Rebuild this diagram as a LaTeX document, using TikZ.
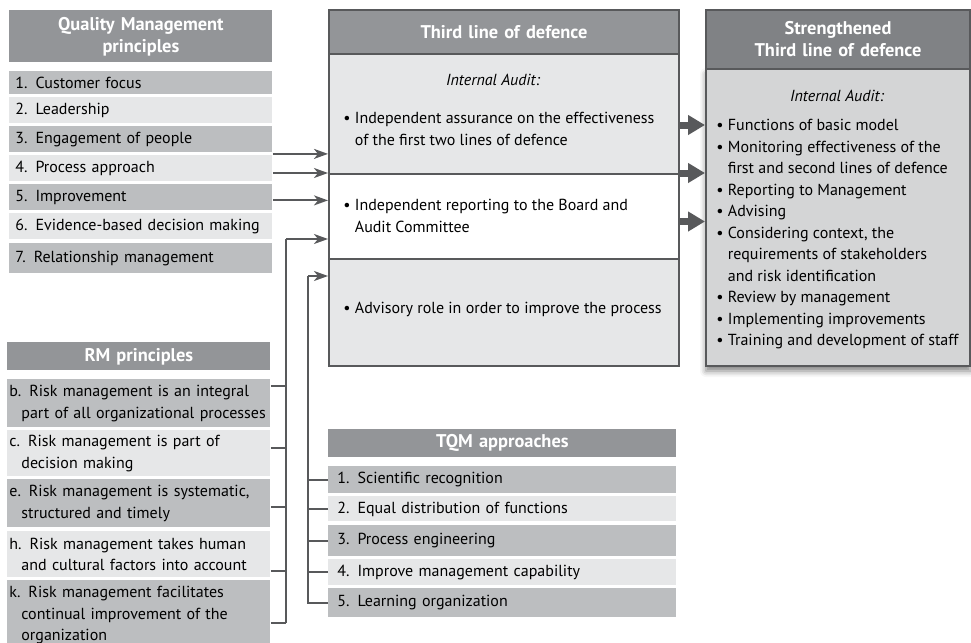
\documentclass[tikz,border=0pt]{standalone}
\usepackage{fontspec}
\setmainfont{PT Sans}
\usetikzlibrary{arrows.meta,calc,shadows.blur}
\definecolor{hdrgray}{HTML}{939598}
\definecolor{darkrow}{HTML}{BCBEC0}
\definecolor{lightrow}{HTML}{E6E7E8}
\definecolor{linegray}{HTML}{58595B}
\definecolor{rhdrgray}{HTML}{808285}
\definecolor{rbodygray}{HTML}{D4D5D6}
\tikzset{
  box/.style={anchor=north west, inner xsep=3pt, inner ysep=0pt, align=left,
    font=\fontsize{8}{10.75}\selectfont},
  hdr/.style={box, fill=hdrgray, text=white, align=center,
    font=\bfseries\fontsize{9.2}{11}\selectfont},
  dkrow/.style={box, fill=darkrow},
  ltrow/.style={box, fill=lightrow},
  frame/.style={box, draw=linegray, line width=1pt},
  txt/.style={anchor=north west, inner sep=0pt, align=left,
    font=\fontsize{8}{10.75}\selectfont},
  conn/.style={draw=linegray, line width=1pt},
  arr/.style={conn, -{Stealth[length=7pt,width=5pt,inset=2pt]}},
  fat/.style={draw=linegray, line width=3.5pt, -{Triangle[length=8.5pt,width=9.5pt]}}
}
\newcommand{\ind}{\hspace*{6pt}}
\newcommand{\bul}{\textbullet\ }
\newcommand{\nobul}{\phantom{\textbullet\ }}
\begin{document}
\begin{tikzpicture}[x=0.5pt,y=-0.5pt]
\useasboundingbox (0,0) rectangle (971,643);

% Quality Management principles
\begin{scope}[every node/.append style={text width=125.5pt}]
\node[hdr, minimum height=26pt] (qmhead) at (9,10) {Quality Management\\principles};
\node[dkrow, minimum height=11.5pt] (qm1) at (9,71) {1. Customer focus};
\node[ltrow, minimum height=13pt] (qm2) at (9,97) {2. Leadership};
\node[dkrow, minimum height=13pt] (qm3) at (9,126) {3. Engagement of people};
\node[ltrow, minimum height=13pt] (qm4) at (9,155) {4. Process approach};
\node[dkrow, minimum height=13pt] (qm5) at (9,184) {5. Improvement};
\node[ltrow, minimum height=13pt] (qm6) at (9,213) {6. Evidence-based decision making};
\node[dkrow, minimum height=15pt] (qm7) at (9,243) {7. Relationship management};
\end{scope}

% RM principles
\begin{scope}[box/.append style={inner xsep=1pt}, every node/.append style={text width=129.5pt}]
\node[hdr, minimum height=14pt] (rmhead) at (7,342) {RM principles};
\node[dkrow, minimum height=24pt] (rmb) at (7,379) {b. Risk management is an integral\\\ind part of all organizational processes};
\node[ltrow, minimum height=23pt] (rmc) at (7,430) {c. Risk management is part of\\\ind decision making};
\node[dkrow, minimum height=24pt] (rme) at (7,479) {e. Risk management is systematic,\\\ind structured and timely};
\node[ltrow, minimum height=23pt] (rmh) at (7,531) {h. Risk management takes human\\\ind and cultural factors into account};
\node[dkrow, minimum height=35pt] (rmk) at (7,580) {k. Risk management facilitates\\\ind continual improvement of the\\\ind organization};
\end{scope}

% TQM approaches
\begin{scope}[box/.append style={inner xsep=4.5pt}, every node/.append style={text width=165pt}]
\node[hdr, minimum height=14pt] (tqhead) at (328,429) {TQM approaches};
\node[dkrow, minimum height=13.5pt] (tq1) at (328,466) {1. Scientific recognition};
\node[ltrow, minimum height=12.5pt] (tq2) at (328,496) {2. Equal distribution of functions};
\node[dkrow, minimum height=15.5pt] (tq3) at (328,525) {3. Process engineering};
\node[ltrow, minimum height=13pt] (tq4) at (328,559) {4. Improve management capability};
\node[dkrow, minimum height=14.5pt] (tq5) at (328,588) {5. Learning organization};
\end{scope}

% Third line of defence
\begin{scope}[every node/.append style={text width=169pt}]
\node[frame, fill=lightrow, minimum height=60pt] (mid1) at (328,53) {};
\node[frame, fill=white, minimum height=42.5pt] (mid2) at (328,173) {};
\node[frame, fill=lightrow, minimum height=53.5pt] (mid3) at (328,258) {};
\node[frame, hdr, minimum height=22pt] (mid0) at (328,9) {Third line of defence};
\end{scope}
\node[txt, anchor=center] (m1audit) at (493,80) {\itshape Internal Audit:};
\node[txt] (m1list) at (343,112) {\bul Independent assurance on the effectiveness\\\nobul of the first two lines of defence};
\node[txt] (m2list) at (343,199) {\bul Independent reporting to the Board and\\\nobul Audit Committee};
\node[txt] (m3list) at (343,302) {\bul Advisory role in order to improve the process};

% Strengthened third line of defence
\node[frame, fill=rbodygray, text width=126pt, minimum height=148.5pt,
  blur shadow={shadow xshift=0pt, shadow yshift=-2.5pt, shadow blur radius=3pt, shadow opacity=50}] (rbody) at (705,68) {};
\node[frame, hdr, fill=rhdrgray, text width=126pt, minimum height=29.5pt] (rhead) at (705,9) {Strengthened\\Third line of defence};
\node[txt, anchor=center] (raudit) at (837,96) {\itshape Internal Audit:};
\node[txt] (rlist) at (716,119) {\bul Functions of basic model\\
  \bul Monitoring effectiveness of the\\
  \nobul first and second lines of defence\\
  \bul Reporting to Management\\
  \bul Advising\\
  \bul Considering context, the\\
  \nobul requirements of stakeholders\\
  \nobul and risk identification\\
  \bul Review by management\\
  \bul Implementing improvements\\
  \bul Training and development of staff};

% arrows from QM principles
\coordinate (qa) at ($(qm3.south east)!.5!(qm4.north east)$);
\draw[arr] (qa) -- (qa -| mid1.west);
\draw[arr] (qm4.east |- mid2.north) -- (mid2.north west);
\draw[arr] ([yshift=-1.5pt]qm5.east) -- ([yshift=-1.5pt]qm5.east -| mid2.west);

% RM bracket
\coordinate (rmbus) at (286,239);
\draw[arr] (rmbus) -- (rmbus -| mid2.west);
\draw[conn] (rmbus) -- (286,623);
\foreach \n/\d in {rmb/8.5pt, rmc/2.5pt, rme/-2pt, rmh/-8.5pt, rmk/-4pt}
  \draw[conn] ([yshift=\d]\n.east) -- ([yshift=\d]\n.east -| rmbus);

% TQM bracket
\coordinate (tqbus) at (308,276);
\draw[arr] (tqbus) -- (tqbus -| mid3.west);
\draw[conn] (tqbus) |- (tq5.west);
\foreach \n in {tq1,tq2,tq3,tq4}
  \draw[conn] (\n.west) -- (\n.west -| tqbus);

% block arrows to strengthened line
\draw[fat] ([yshift=-5.5pt]mid1.east) -- ([yshift=-5.5pt]mid1.east -| rbody.west);
\draw[fat] (mid2.north east) -- (mid2.north east -| rbody.west);
\draw[fat] ([yshift=-2.5pt]mid2.east) -- ([yshift=-2.5pt]mid2.east -| rbody.west);
\end{tikzpicture}
\end{document}
